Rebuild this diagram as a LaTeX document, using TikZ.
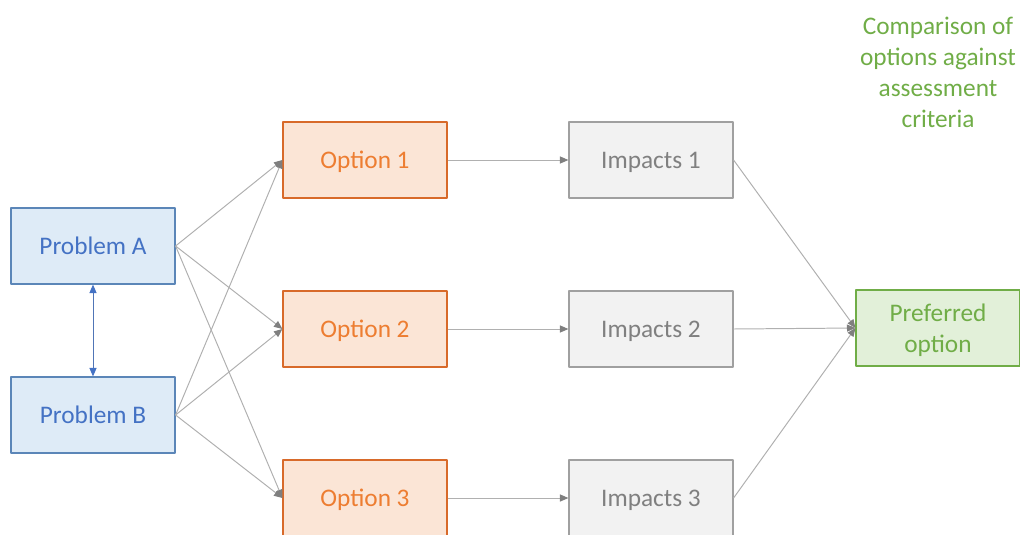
\documentclass[tikz,border=0pt]{standalone}
\usepackage{fontspec}
\setmainfont{Carlito}
\usetikzlibrary{arrows.meta}
\definecolor{probfill}{HTML}{DEEBF7}
\definecolor{probline}{HTML}{5B86B8}
\definecolor{probtext}{HTML}{4472C4}
\definecolor{optfill}{HTML}{FBE5D6}
\definecolor{optline}{HTML}{D86A2A}
\definecolor{opttext}{HTML}{ED7D31}
\definecolor{impfill}{HTML}{F2F2F2}
\definecolor{impline}{HTML}{A0A0A0}
\definecolor{imptext}{HTML}{808080}
\definecolor{preffill}{HTML}{E2F0D9}
\definecolor{prefline}{HTML}{70AD47}
\definecolor{preftext}{HTML}{70AD47}
\definecolor{linkgray}{HTML}{B0B0B0}
\definecolor{tipgray}{HTML}{7F7F7F}
\begin{document}
\begin{tikzpicture}[x=0.025cm,y=-0.025cm,
		line join=round, font=\fontsize{18}{22}\selectfont,
		box/.style={draw,line width=0.8pt,minimum width=4.1cm,minimum height=1.9cm,inner sep=0pt,align=center,text depth=0pt},
		prob/.style={box,draw=probline,fill=probfill,text=probtext},
		opt/.style={box,draw=optline,fill=optfill,text=opttext},
		imp/.style={box,draw=impline,fill=impfill,text=imptext},
		pref/.style={box,draw=prefline,fill=preffill,text=preftext},
		link/.style={draw=linkgray,line width=0.7pt,-{Triangle[length=6pt,width=5pt,color=tipgray]}}]
	\useasboundingbox (0,0) rectangle (1020,534);
	\clip (0,0) rectangle (1020,534);
	\node[prob] (pa) at (93,246) {Problem A};
	\node[prob] (pb) at (93,415) {Problem B};
	\foreach \i/\y in {1/160,2/329,3/498}{
		\node[opt] (o\i) at (365,\y) {Option \i};
		\node[imp] (m\i) at (651,\y) {Impacts \i};
	}
	\node[pref] (po) at (938,328) {Preferred\\option};
	\node[text=preftext,align=center] (cr) at (938,72) {Comparison of\\options against\\assessment\\criteria};
	% links
	\draw[draw=probtext!80!gray,line width=0.7pt,{Triangle[length=6pt,width=5pt,color=probtext]}-{Triangle[length=6pt,width=5pt,color=probtext]}] (pa)--(pb);
	\foreach \p in {pa,pb}
	\foreach \i in {1,2,3}
		\draw[link] (\p.east)--(o\i.west);
	\foreach \i in {1,2,3}{
		\draw[link] (o\i)--(m\i);
		\draw[link] (m\i.east)--(po.west);
	}
\end{tikzpicture}
\end{document}
